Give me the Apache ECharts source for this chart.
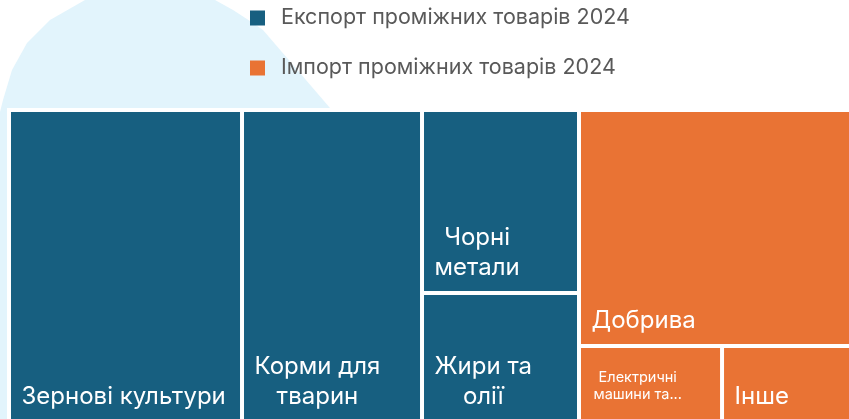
<!DOCTYPE html>
<html>
<head>
<meta charset="utf-8">
<script src="https://cdn.jsdelivr.net/npm/echarts@6/dist/echarts.min.js"></script>
<style>
  html, body { margin: 0; padding: 0; background: #fff; }
  #main { width: 849px; height: 419px; }
</style>
</head>
<body>
<div id="main"></div>
<script>
// назви груп (легенда)
var groupNames = ['Експорт проміжних товарів 2024', 'Імпорт проміжних товарів 2024'];
var groupColors = ['#175F80', '#E97334'];

// експорт
var exportNames = ['Зернові культури', 'Корми для тварин', 'Чорні метали', 'Жири та олії'];
var exportLabels = [['Зернові культури'], ['Корми для', 'тварин'], ['Чорні', 'метали'], ['Жири та', 'олії']];
var exportValues = [7270, 5616, 2873, 2025];

// імпорт
var importNames = ['Добрива', 'Електричні машини та...', 'Інше'];
var importLabels = [['Добрива'], ['Електричні', 'машини та...'], ['Інше']];
var importValues = [6419, 1087, 980];

var myChart = echarts.init(document.getElementById('main'));
var ctx = document.createElement('canvas').getContext('2d');

// стилі підписів: звичайний та дрібний
var bigText = { fontSize: 24, lineHeight: 30, padL: 10, padB: 8 };
var smallText = { fontSize: 14.5, lineHeight: 17, padL: 12, padB: 17 };

function textWidth(str, size) {
	ctx.font = size + 'px Inter';
	return ctx.measureText(str).width;
}

function buildData(names, labels, values, small) {
	var out = [];
	for (var i = 0; i < names.length; i++) {
		out.push({ name: names[i], value: values[i], lines: labels[i], small: !!small[i] });
	}
	return out;
}

function labelText(p) {
	var lines = p.data.lines || [p.name];
	return lines.map(function (l) { return '{c|' + l + '}'; }).join('\n');
}

function richFor(t) {
	return { c: { align: 'center', color: '#fff', fontFamily: 'Inter', fontSize: t.fontSize, lineHeight: t.lineHeight } };
}

function makeSeries(name, color, data, left, width) {
	return {
		name: name,
		type: 'treemap',
		left: left,
		top: 108,
		width: width,
		height: 316,
		roam: false,
		nodeClick: false,
		squareRatio: 1,
		breadcrumb: { show: false },
		animation: false,
		itemStyle: { color: color, borderWidth: 0, gapWidth: 4 },
		levels: [
			{ itemStyle: { borderWidth: 4, borderColor: '#fff', gapWidth: 4 } },
			{ itemStyle: { color: color, borderWidth: 0 } }
		],
		label: {
			show: true,
			position: 'insideTopLeft',
			distance: 0,
			padding: 0,
			overflow: 'none',
			color: '#fff',
			fontFamily: 'Inter',
			formatter: labelText,
			rich: richFor(bigText)
		},
		data: data
	};
}

var exportData = buildData(exportNames, exportLabels, exportValues, [0, 0, 0, 0]);
var importData = buildData(importNames, importLabels, importValues, [0, 1, 0]);

var option = {
	backgroundColor: '#fff',
	graphic: [{
		type: 'polygon',
		z: 0,
		silent: true,
		shape: {
			points: [[0, 419], [0, 112], [3, 100], [12, 70], [27, 43], [50, 20], [85, 0], [215, 0],
				[233, 10], [253, 23], [263, 30], [330, 108], [330, 419]]
		},
		style: { fill: '#E2F4FC' }
	}],
	legend: {
		orient: 'vertical',
		left: 245,
		top: 2,
		itemWidth: 15,
		itemHeight: 15,
		itemGap: 28,
		icon: 'rect',
		textStyle: { color: '#595959', fontSize: 21.5, lineHeight: 20, fontFamily: 'Inter', padding: [0, 0, 0, 11] },
		data: [
			{ name: groupNames[0], itemStyle: { color: groupColors[0] } },
			{ name: groupNames[1], itemStyle: { color: groupColors[1] } }
		]
	},
	series: [
		makeSeries(groupNames[0], groupColors[0], exportData, 7, 574),
		makeSeries(groupNames[1], groupColors[1], importData, 577, 276)
	]
};
myChart.setOption(option);

// підписи притиснуті до нижнього лівого кута: відступи з розмірів клітинок
function placeLabels() {
	var model = myChart.getModel();
	var all = [exportData, importData];
	for (var s = 0; s < all.length; s++) {
		var data = model.getSeriesByIndex(s).getData();
		for (var i = 0; i < data.count(); i++) {
			var name = data.getName(i);
			var item = null;
			for (var k = 0; k < all[s].length; k++) {
				if (all[s][k].name === name) item = all[s][k];
			}
			var lay = data.getItemLayout(i);
			if (!item || !lay) continue;
			var t = item.small ? smallText : bigText;
			var w = 0;
			item.lines.forEach(function (l) { w = Math.max(w, textWidth(l, t.fontSize)); });
			var h = item.lines.length * t.lineHeight;
			item.label = {
				padding: [Math.max(lay.height - t.padB - h, 0), Math.max(lay.width - t.padL - w - 1, 0), t.padB, t.padL],
				rich: richFor(t)
			};
		}
	}
	myChart.setOption({ series: [{ data: exportData }, { data: importData }] });
}
placeLabels();
</script>
</body>
</html>
